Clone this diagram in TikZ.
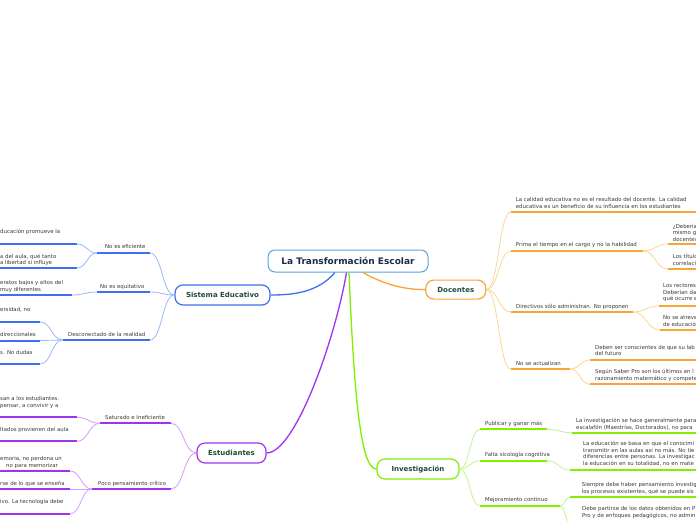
\documentclass[tikz,border=0pt]{standalone}
\usepackage{fontspec}
\setmainfont{DejaVu Sans}
\usetikzlibrary{calc}
\definecolor{cenbl}{HTML}{5AA5DC}
\definecolor{navy}{HTML}{1B2B4B}
\definecolor{dkgreen}{HTML}{1F4A3A}
\definecolor{txt}{HTML}{3A3A3A}
\definecolor{bl}{HTML}{3D6FF2}
\definecolor{bll}{HTML}{9BB8F8}
\definecolor{og}{HTML}{F9A533}
\definecolor{ogl}{HTML}{FDD596}
\definecolor{pu}{HTML}{A232F2}
\definecolor{pul}{HTML}{D79AF8}
\definecolor{gr}{HTML}{80F000}
\definecolor{grl}{HTML}{C4F58C}
\tikzset{
  hc/.style={to path={let \p1=(\tikztostart), \p2=(\tikztotarget) in
     .. controls (0.5*\x1+0.5*\x2,\y1) and (0.5*\x1+0.5*\x2,\y2) .. (\tikztotarget) \tikztonodes}},
  central/.style={draw=cenbl, line width=1pt, rounded corners=7pt, minimum width=160pt,
     minimum height=22pt, font=\fontsize{9}{11}\selectfont\bfseries, text=navy, fill=white},
  mainbox/.style={line width=1.2pt, rounded corners=8pt, font=\fontsize{7}{8}\selectfont\bfseries,
     text=dkgreen, fill=white, inner sep=0pt},
  leaf/.style={font=\fontsize{5.4}{6.4}\selectfont, text=txt, align=left, inner sep=0pt, anchor=base west},
  ul/.style={line width=2pt},
  maincon/.style={line width=1.3pt},
  subcon/.style={line width=0.8pt},
}
\begin{document}
\begin{tikzpicture}[x=1pt,y=-1pt]
\useasboundingbox (0,0) rectangle (696,520);
\fill[white] (0,0) rectangle (696,520);
\clip (0,0) rectangle (696,520);

% ---------- main nodes
\node[central] (c) at (348,261) {La Transformación Escolar};
\node[mainbox, draw=bl, minimum width=95pt, minimum height=20pt] (se) at (222.5,295) {Sistema Educativo};
\node[mainbox, draw=og, minimum width=60pt, minimum height=19pt] (doc) at (455.8,289.6) {Docentes};
\node[mainbox, draw=pu, minimum width=69pt, minimum height=20pt] (est) at (231.5,453) {Estudiantes};
\node[mainbox, draw=gr, minimum width=82pt, minimum height=20pt] (inv) at (418,469) {Investigación};

% ---------- main connectors
\draw[maincon, bl] ([xshift=-13pt]c.south) .. controls (318,292) and (295,295) .. (se.east);
\draw[maincon, og] ([xshift=15pt]c.south) .. controls (385,285) and (405,289.6) .. (doc.west);
\draw[maincon, pu] ([xshift=-1.5pt]c.south) .. controls (335,340) and (295,453) .. (est.east);
\draw[maincon, gr] ([xshift=1pt]c.south) .. controls (354,390) and (360,469) .. (inv.west);

% ================= Sistema Educativo (blue)
\coordinate (sa1) at (97,253);  \coordinate (sb1) at (150,253);
\coordinate (sa2) at (97,292);  \coordinate (sb2) at (150,292);
\coordinate (sa3) at (63,340);  \coordinate (sb3) at (150,340);
\draw[ul, bl] (sa1) -- (sb1);
\draw[ul, bl] (sa2) -- (sb2);
\draw[ul, bl] (sa3) -- (sb3);
\draw[subcon, bll] (se.west) to[hc] (sb1);
\draw[subcon, bll] (se.west) to[hc] (sb2);
\draw[subcon, bll] (se.west) to[hc] (sb3);
\node[leaf] (s1) at (105,248.3) {No es eficiente};
\node[leaf] (s2) at (100,288.3) {No es equitativo};
\node[leaf] (s3) at (68,336.3) {Desconectado de la realidad};

\coordinate (la1) at (0,244);   \coordinate (lb1) at (77,244);
\coordinate (la2) at (0,268);   \coordinate (lb2) at (77,268);
\coordinate (la3) at (0,295);   \coordinate (lb3) at (72,295);
\coordinate (la4) at (0,322);   \coordinate (lb4) at (40,322);
\coordinate (la5) at (0,340.5); \coordinate (lb5) at (40,340.5);
\coordinate (la6) at (0,364);   \coordinate (lb6) at (40,364);
\foreach \i in {1,...,6} {\draw[ul, bl] (la\i) -- (lb\i);}
\draw[subcon, bll] (sa1) to[hc] (lb1);
\draw[subcon, bll] (sa1) to[hc] (lb2);
\draw[subcon, bll] (sa2) to[hc] (lb3);
\draw[subcon, bll] (sa3) to[hc] (lb4);
\draw[subcon, bll] (sa3) to[hc] (lb5);
\draw[subcon, bll] (sa3) to[hc] (lb6);
\node[leaf] (t1) at (0,233.3) {ducación promueve la};
\node[leaf] (t2) at (0,264.6) {a del aula, qué tanto\\a libertad si influye};
\node[leaf] (t3) at (0,291.3) {eratos bajos y altos del\\muy diferentes};
\node[leaf] (t4) at (0,311.3) {ersidad, no};
\node[leaf] (t5) at (0,336.3) {direccionales};
\node[leaf] (t6) at (0,354.3) {s. No dudas};

% ================= Estudiantes (purple)
\coordinate (ea1) at (100,423.3); \coordinate (eb1) at (171,423.3);
\coordinate (ea2) at (92,489);    \coordinate (eb2) at (171,489);
\draw[ul, pu] (ea1) -- (eb1);
\draw[ul, pu] (ea2) -- (eb2);
\draw[subcon, pul] (est.west) to[hc] (eb1);
\draw[subcon, pul] (est.west) to[hc] (eb2);
\node[leaf] (e1) at (105,419.3) {Saturado e Ineficiente};
\node[leaf] (e2) at (98,485.6) {Poco pensamiento crítico};

\coordinate (pa1) at (0,417.3); \coordinate (pb1) at (77,417.3);
\coordinate (pa2) at (0,441.3); \coordinate (pb2) at (77,441.3);
\coordinate (pa3) at (0,471);   \coordinate (pb3) at (70,471);
\coordinate (pa4) at (0,489);   \coordinate (pb4) at (70,489);
\coordinate (pa5) at (0,514);   \coordinate (pb5) at (70,514);
\foreach \i in {1,...,5} {\draw[ul, pu] (pa\i) -- (pb\i);}
\draw[subcon, pul] (ea1) to[hc] (pb1);
\draw[subcon, pul] (ea1) to[hc] (pb2);
\draw[subcon, pul] (ea2) to[hc] (pb3);
\draw[subcon, pul] (ea2) to[hc] (pb4);
\draw[subcon, pul] (ea2) to[hc] (pb5);
\node[leaf] (u1) at (0,407.3) {san a los estudiantes.\\pensar, a convivir y a};
\node[leaf] (u2) at (0,431.3) {ltados provienen del aula};
\node[leaf] (u3) at (0,467) {emoria, no perdona un\\\hspace*{6pt}no para memorizar};
\node[leaf] (u4) at (0,485.3) {rse de lo que se enseña};
\node[leaf] (u5) at (0,503.3) {ivo. La tecnología debe};

% ================= Docentes (orange)
\coordinate (da1) at (511,212); \coordinate (db1) at (700,212);
\coordinate (da2) at (511,251); \coordinate (db2) at (643,251);
\coordinate (da3) at (511,312); \coordinate (db3) at (633,312);
\coordinate (da4) at (511,369); \coordinate (db4) at (570,369);
\foreach \i in {1,...,4} {\draw[ul, og] (da\i) -- (db\i);}
\foreach \i in {1,...,4} {\draw[subcon, ogl] (doc.east) to[hc] (da\i);}
\node[leaf] (d1) at (515.7,208) {La calidad educativa no es el resultado del docente. La calidad\\educativa es un beneficio de su influencia en los estudiantes};
\node[leaf] (d2) at (515.7,246.6) {Prima el tiempo en el cargo y no la habilidad};
\node[leaf] (d3) at (516,308) {Directivos sólo administran. No proponen};
\node[leaf] (d4) at (516,365) {No se actualizan};

\coordinate (qa1) at (668,244);   \coordinate (qb1) at (700,244);
\coordinate (qa2) at (668,269);   \coordinate (qb2) at (700,269);
\coordinate (qa3) at (659,306);   \coordinate (qb3) at (700,306);
\coordinate (qa4) at (660,330);   \coordinate (qb4) at (700,330);
\coordinate (qa5) at (590,360);   \coordinate (qb5) at (700,360);
\coordinate (qa6) at (590,384.3); \coordinate (qb6) at (700,384.3);
\foreach \i in {1,...,6} {\draw[ul, og] (qa\i) -- (qb\i);}
\draw[subcon, ogl] (db2) to[hc] (qa1);
\draw[subcon, ogl] (db2) to[hc] (qa2);
\draw[subcon, ogl] (db3) to[hc] (qa3);
\draw[subcon, ogl] (db3) to[hc] (qa4);
\draw[subcon, ogl] (db4) to[hc] (qa5);
\draw[subcon, ogl] (db4) to[hc] (qa6);
\node[leaf] (r1) at (672.7,241) {¿Debería\\mismo g\\docentes};
\node[leaf] (r2) at (672.7,265) {Los título\\correlación};
\node[leaf] (r3) at (663,300.6) {Los rectores\\Deberían da\\qué ocurre e};
\node[leaf] (r4) at (663,326.3) {No se atreve\\de educació};
\node[leaf] (r5) at (595,355.6) {Deben ser conscientes de que su lab\\del futuro};
\node[leaf] (r6) at (595,380) {Según Saber Pro son los últimos en l\\razonamiento matemático y compete};

% ================= Investigacion (green)
\coordinate (ia1) at (480,429.3); \coordinate (ib1) at (547,429.3);
\coordinate (ia2) at (480,460.7); \coordinate (ib2) at (547,460.7);
\coordinate (ia3) at (480,506);   \coordinate (ib3) at (560,506);
\foreach \i in {1,...,3} {\draw[ul, gr] (ia\i) -- (ib\i);}
\foreach \i in {1,...,3} {\draw[subcon, grl] (inv.east) to[hc] (ia\i);}
\node[leaf] (i1) at (485,425.6) {Publicar y ganar más};
\node[leaf] (i2) at (485,456.3) {Falta sicología cognitiva};
\node[leaf] (i3) at (485,501.3) {Mejoramiento continuo};

\coordinate (ja1) at (572,432.7); \coordinate (jb1) at (700,432.7);
\coordinate (ja2) at (570,470);   \coordinate (jb2) at (700,470);
\coordinate (ja3) at (570,497.3); \coordinate (jb3) at (700,497.3);
\coordinate (ja4) at (570,522);   \coordinate (jb4) at (700,522);
\foreach \i in {1,...,4} {\draw[ul, gr] (ja\i) -- (jb\i);}
\draw[subcon, grl] (ib1) to[hc] (ja1);
\draw[subcon, grl] (ib2) to[hc] (ja2);
\draw[subcon, grl] (ib3) to[hc] (ja3);
\draw[subcon, grl] (ib3) to[hc] (ja4);
\node[leaf] (k1) at (576,429) {La investigación se hace generalmente para\\escalafón (Maestrías, Doctorados), no para};
\node[leaf] (k2) at (583,465) {La educación se basa en que el conocimi\\transmitir en las aulas así no más. No tie\\diferencias entre personas. La investigac\\la educación en su totalidad, no en mate};
\node[leaf] (k3) at (581.7,493) {Siempre debe haber pensamiento investig\\los procesos existentes, qué se puede sis};
\node[leaf] (k4) at (582,517.3) {Debe partirse de los datos obtenidos en P\\Pro y de enfoques pedagógicos, no admin};
\end{tikzpicture}
\end{document}
